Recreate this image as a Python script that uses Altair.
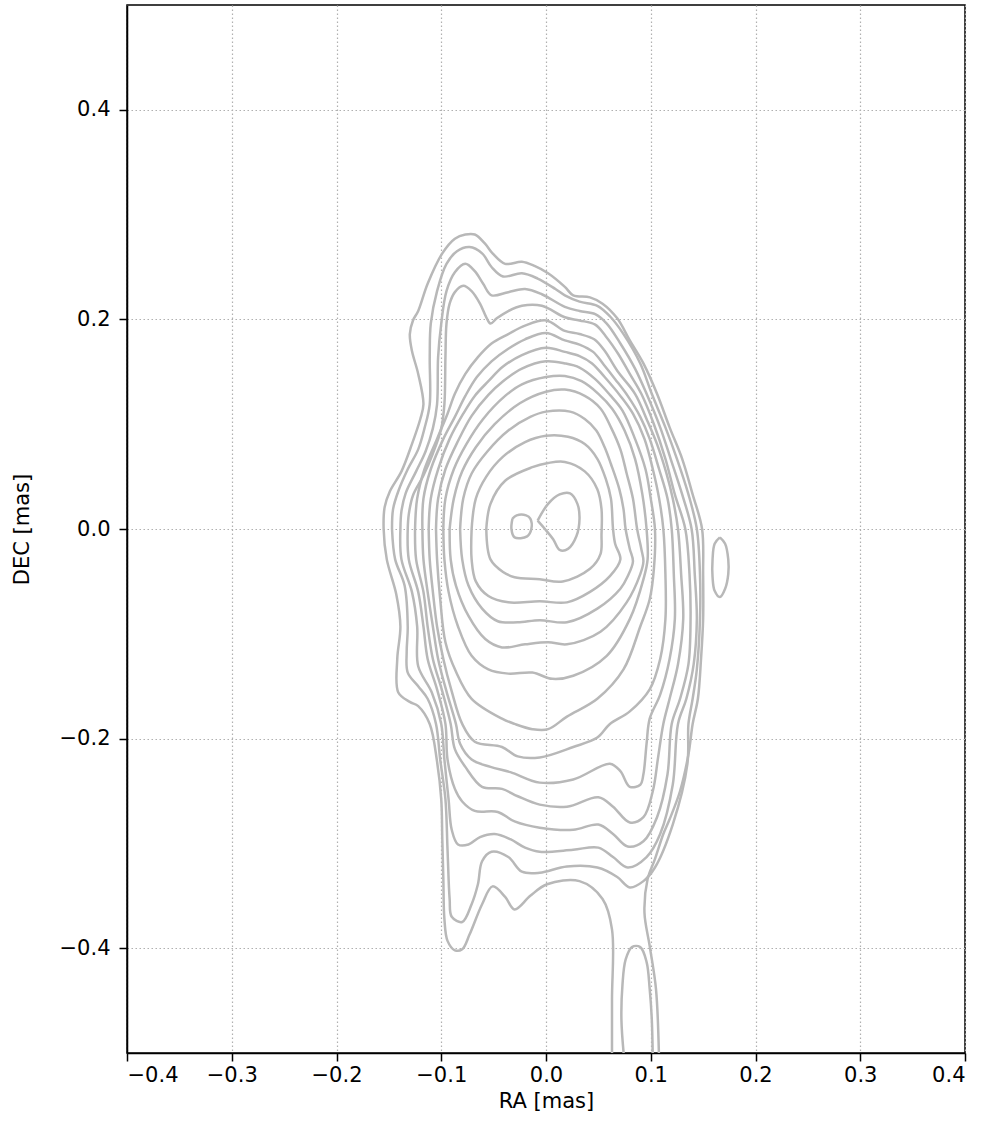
import altair as alt
import pandas as pd

# Axis ticks
X_TICKS = [-0.4, -0.3, -0.2, -0.1, 0.0, 0.1, 0.2, 0.3, 0.4]
Y_TICKS = [-0.4, -0.2, 0.0, 0.2, 0.4]

# Contour vertices (RA, DEC) in mas
RING_1 = [(0.063,-0.51),(0.063,-0.449),(0.063,-0.382),(0.054,-0.353),(0.032,-0.336),(0.001,-0.339),(-0.015,-0.350),(-0.030,-0.363),(-0.039,-0.351),(-0.051,-0.341),(-0.061,-0.358),(-0.073,-0.387),(-0.080,-0.401),(-0.087,-0.402),(-0.094,-0.393),(-0.097,-0.372),(-0.098,-0.334),(-0.099,-0.296),(-0.100,-0.258),(-0.104,-0.222),(-0.111,-0.186),(-0.122,-0.169),(-0.130,-0.165),(-0.141,-0.156),(-0.142,-0.124),(-0.139,-0.093),(-0.143,-0.062),(-0.152,-0.029),(-0.155,0.000),(-0.154,0.021),(-0.149,0.036),(-0.138,0.055),(-0.128,0.081),(-0.120,0.105),(-0.117,0.119),(-0.122,0.148),(-0.128,0.170),(-0.130,0.186),(-0.127,0.199),(-0.122,0.208),(-0.113,0.234),(-0.099,0.263),(-0.087,0.277),(-0.077,0.281),(-0.068,0.281),(-0.058,0.272),(-0.051,0.263),(-0.039,0.253),(-0.023,0.255),(-0.011,0.251),(0.002,0.244),(0.018,0.231),(0.026,0.223),(0.042,0.221),(0.054,0.215),(0.068,0.201),(0.080,0.180),(0.093,0.158),(0.106,0.129),(0.118,0.097),(0.130,0.067),(0.140,0.033),(0.149,0.000),(0.150,-0.043),(0.150,-0.086),(0.148,-0.124),(0.145,-0.162),(0.140,-0.186),(0.136,-0.215),(0.128,-0.250),(0.118,-0.277),(0.112,-0.291),(0.104,-0.315),(0.097,-0.334),(0.094,-0.366),(0.099,-0.398),(0.105,-0.439),(0.108,-0.51)]

RING_2 = [(-0.147,0.000),(-0.146,0.019),(-0.141,0.036),(-0.132,0.057),(-0.122,0.076),(-0.116,0.096),(-0.111,0.119),(-0.111,0.164),(-0.110,0.196),(-0.104,0.227),(-0.095,0.253),(-0.085,0.265),(-0.073,0.269),(-0.061,0.263),(-0.052,0.250),(-0.041,0.241),(-0.023,0.244),(-0.008,0.239),(0.009,0.229),(0.018,0.223),(0.032,0.217),(0.049,0.213),(0.061,0.203),(0.074,0.186),(0.090,0.158),(0.101,0.129),(0.114,0.097),(0.125,0.067),(0.136,0.033),(0.144,0.000),(0.147,-0.043),(0.147,-0.086),(0.144,-0.134),(0.140,-0.162),(0.136,-0.186),(0.135,-0.224),(0.121,-0.282),(0.104,-0.323),(0.093,-0.336),(0.080,-0.342),(0.068,-0.332),(0.049,-0.323),(0.020,-0.322),(-0.006,-0.328),(-0.023,-0.327),(-0.036,-0.313),(-0.052,-0.308),(-0.061,-0.317),(-0.065,-0.339),(-0.071,-0.358),(-0.080,-0.375),(-0.090,-0.370),(-0.092,-0.353),(-0.094,-0.306),(-0.096,-0.258),(-0.101,-0.220),(-0.105,-0.186),(-0.113,-0.162),(-0.122,-0.150),(-0.132,-0.137),(-0.133,-0.117),(-0.132,-0.093),(-0.135,-0.054),(-0.144,-0.029)]

RING_3 = [(-0.139,0.000),(-0.138,0.017),(-0.134,0.034),(-0.124,0.055),(-0.115,0.074),(-0.108,0.096),(-0.104,0.119),(-0.103,0.164),(-0.100,0.196),(-0.095,0.227),(-0.087,0.245),(-0.077,0.253),(-0.068,0.246),(-0.060,0.234),(-0.052,0.223),(-0.036,0.226),(-0.020,0.229),(-0.004,0.224),(0.018,0.212),(0.032,0.208),(0.047,0.205),(0.058,0.196),(0.071,0.177),(0.085,0.153),(0.096,0.129),(0.109,0.097),(0.119,0.067),(0.130,0.033),(0.139,0.000),(0.142,-0.043),(0.144,-0.086),(0.141,-0.129),(0.134,-0.162),(0.126,-0.186),(0.121,-0.244),(0.109,-0.291),(0.096,-0.313),(0.078,-0.323),(0.064,-0.313),(0.050,-0.304),(0.026,-0.306),(-0.006,-0.308),(-0.020,-0.304),(-0.034,-0.296),(-0.049,-0.291),(-0.063,-0.294),(-0.074,-0.301),(-0.084,-0.301),(-0.090,-0.287),(-0.093,-0.258),(-0.097,-0.220),(-0.100,-0.186),(-0.109,-0.156),(-0.122,-0.131),(-0.123,-0.093),(-0.128,-0.060),(-0.138,-0.029)]

RING_4 = [(-0.132,0.000),(-0.131,0.014),(-0.127,0.032),(-0.117,0.051),(-0.108,0.072),(-0.100,0.096),(-0.097,0.119),(-0.096,0.164),(-0.095,0.196),(-0.092,0.215),(-0.087,0.226),(-0.079,0.232),(-0.071,0.227),(-0.063,0.215),(-0.057,0.202),(-0.053,0.196),(-0.047,0.201),(-0.036,0.208),(-0.023,0.213),(-0.004,0.213),(0.018,0.202),(0.032,0.199),(0.047,0.195),(0.057,0.184),(0.069,0.167),(0.080,0.148),(0.091,0.129),(0.103,0.100),(0.114,0.067),(0.123,0.033),(0.133,0.000),(0.137,-0.043),(0.138,-0.086),(0.136,-0.129),(0.128,-0.162),(0.120,-0.186),(0.116,-0.234),(0.106,-0.275),(0.093,-0.298),(0.078,-0.303),(0.064,-0.291),(0.050,-0.282),(0.026,-0.287),(-0.006,-0.285),(-0.030,-0.279),(-0.046,-0.270),(-0.068,-0.269),(-0.080,-0.260),(-0.087,-0.248),(-0.094,-0.220),(-0.096,-0.186),(-0.104,-0.153),(-0.113,-0.124),(-0.117,-0.093),(-0.122,-0.060),(-0.131,-0.029)]

RING_5 = [(-0.125,0.000),(-0.123,0.029),(-0.116,0.057),(-0.104,0.086),(-0.094,0.110),(-0.087,0.129),(-0.077,0.148),(-0.065,0.164),(-0.052,0.177),(-0.036,0.186),(-0.020,0.194),(0.000,0.199),(0.018,0.189),(0.032,0.186),(0.046,0.181),(0.056,0.170),(0.068,0.151),(0.085,0.129),(0.096,0.105),(0.106,0.081),(0.115,0.053),(0.121,0.029),(0.126,0.000),(0.129,-0.043),(0.131,-0.086),(0.126,-0.129),(0.118,-0.162),(0.112,-0.186),(0.107,-0.218),(0.102,-0.250),(0.093,-0.275),(0.080,-0.280),(0.064,-0.265),(0.050,-0.256),(0.020,-0.265),(-0.006,-0.263),(-0.027,-0.255),(-0.042,-0.248),(-0.061,-0.246),(-0.077,-0.227),(-0.087,-0.210),(-0.091,-0.186),(-0.099,-0.155),(-0.108,-0.124),(-0.113,-0.093),(-0.117,-0.060),(-0.124,-0.029)]

RING_6 = [(-0.118,0.000),(-0.117,0.029),(-0.110,0.057),(-0.098,0.086),(-0.087,0.107),(-0.077,0.127),(-0.066,0.145),(-0.052,0.160),(-0.036,0.172),(-0.020,0.181),(0.000,0.187),(0.018,0.180),(0.032,0.176),(0.045,0.169),(0.055,0.157),(0.066,0.143),(0.078,0.127),(0.090,0.107),(0.099,0.086),(0.108,0.057),(0.116,0.029),(0.120,0.000),(0.122,-0.043),(0.123,-0.086),(0.118,-0.124),(0.109,-0.158),(0.099,-0.181),(0.096,-0.205),(0.093,-0.234),(0.090,-0.244),(0.080,-0.246),(0.071,-0.231),(0.061,-0.224),(0.026,-0.239),(-0.006,-0.242),(-0.034,-0.232),(-0.053,-0.227),(-0.071,-0.220),(-0.082,-0.205),(-0.086,-0.186),(-0.095,-0.155),(-0.103,-0.124),(-0.108,-0.093),(-0.113,-0.060),(-0.117,-0.029)]

RING_7 = [(-0.112,0.000),(-0.110,0.029),(-0.103,0.057),(-0.092,0.086),(-0.079,0.110),(-0.068,0.127),(-0.055,0.141),(-0.041,0.155),(-0.023,0.166),(0.000,0.173),(0.018,0.169),(0.032,0.165),(0.044,0.158),(0.056,0.145),(0.071,0.127),(0.083,0.110),(0.094,0.086),(0.102,0.057),(0.108,0.029),(0.112,0.000),(0.114,-0.043),(0.114,-0.086),(0.109,-0.124),(0.099,-0.153),(0.080,-0.174),(0.061,-0.186),(0.049,-0.199),(0.026,-0.208),(-0.006,-0.218),(-0.027,-0.217),(-0.042,-0.208),(-0.068,-0.203),(-0.080,-0.186),(-0.090,-0.155),(-0.098,-0.124),(-0.104,-0.093),(-0.108,-0.060),(-0.111,-0.029)]

RING_8 = [(-0.105,0.000),(-0.103,0.029),(-0.096,0.057),(-0.084,0.084),(-0.071,0.108),(-0.055,0.128),(-0.041,0.141),(-0.023,0.153),(0.000,0.160),(0.018,0.158),(0.032,0.154),(0.047,0.143),(0.061,0.128),(0.073,0.113),(0.085,0.086),(0.095,0.057),(0.100,0.029),(0.104,0.000),(0.103,-0.038),(0.099,-0.067),(0.090,-0.093),(0.074,-0.134),(0.049,-0.162),(0.020,-0.179),(0.002,-0.191),(-0.013,-0.191),(-0.030,-0.186),(-0.042,-0.181),(-0.071,-0.162),(-0.086,-0.136),(-0.096,-0.108),(-0.101,-0.067),(-0.104,-0.029)]

RING_9 = [(-0.098,0.000),(-0.096,0.029),(-0.088,0.057),(-0.076,0.081),(-0.060,0.105),(-0.039,0.127),(-0.023,0.138),(0.000,0.145),(0.018,0.146),(0.034,0.141),(0.050,0.129),(0.063,0.115),(0.075,0.094),(0.085,0.067),(0.092,0.033),(0.096,0.000),(0.097,-0.029),(0.093,-0.048),(0.080,-0.086),(0.058,-0.121),(0.026,-0.140),(0.006,-0.143),(-0.013,-0.137),(-0.036,-0.138),(-0.055,-0.134),(-0.071,-0.121),(-0.084,-0.093),(-0.093,-0.060),(-0.097,-0.029)]

RING_10 = [(-0.092,0.000),(-0.088,0.029),(-0.080,0.055),(-0.067,0.078),(-0.049,0.100),(-0.025,0.120),(0.000,0.131),(0.018,0.133),(0.037,0.127),(0.052,0.115),(0.062,0.097),(0.071,0.076),(0.077,0.053),(0.083,0.029),(0.087,0.000),(0.091,-0.019),(0.093,-0.031),(0.090,-0.043),(0.077,-0.070),(0.052,-0.098),(0.020,-0.110),(0.002,-0.108),(-0.020,-0.110),(-0.042,-0.113),(-0.058,-0.105),(-0.074,-0.083),(-0.086,-0.054),(-0.091,-0.029)]

RING_11 = [(-0.082,0.000),(-0.079,0.029),(-0.071,0.053),(-0.056,0.074),(-0.036,0.094),(-0.015,0.107),(0.000,0.112),(0.023,0.112),(0.037,0.105),(0.048,0.094),(0.056,0.078),(0.062,0.062),(0.070,0.038),(0.074,0.019),(0.076,0.000),(0.080,-0.019),(0.083,-0.031),(0.078,-0.045),(0.071,-0.057),(0.049,-0.076),(0.020,-0.089),(-0.006,-0.087),(-0.027,-0.089),(-0.046,-0.088),(-0.061,-0.076),(-0.074,-0.054),(-0.080,-0.029)]

RING_12 = [(-0.071,0.000),(-0.067,0.029),(-0.057,0.050),(-0.041,0.069),(-0.020,0.083),(0.000,0.089),(0.021,0.088),(0.037,0.081),(0.049,0.067),(0.057,0.048),(0.062,0.029),(0.064,0.000),(0.066,-0.014),(0.071,-0.029),(0.061,-0.045),(0.042,-0.060),(0.020,-0.070),(-0.006,-0.069),(-0.036,-0.070),(-0.055,-0.064),(-0.067,-0.050),(-0.071,-0.029)]

RING_13 = [(-0.057,0.000),(-0.053,0.024),(-0.039,0.046),(-0.013,0.059),(0.002,0.063),(0.018,0.064),(0.037,0.055),(0.049,0.038),(0.053,0.019),(0.053,-0.005),(0.052,-0.024),(0.042,-0.038),(0.016,-0.050),(-0.006,-0.048),(-0.030,-0.046),(-0.041,-0.041),(-0.053,-0.029)]

PEAK_MAIN = [(-0.008,0.008),(0.002,0.024),(0.013,0.033),(0.023,0.034),(0.030,0.024),(0.032,0.010),(0.029,-0.007),(0.021,-0.019),(0.013,-0.020),(0.007,-0.010),(-0.001,0.000)]

PEAK_SMALL = [(-0.032,0.010),(-0.028,0.013),(-0.019,0.013),(-0.015,0.010),(-0.014,0.000),(-0.018,-0.007),(-0.030,-0.008),(-0.033,0.000)]

ISLAND_EAST = [(0.166,-0.008),(0.171,-0.014),(0.174,-0.029),(0.174,-0.043),(0.171,-0.057),(0.166,-0.065),(0.161,-0.059),(0.159,-0.046),(0.159,-0.029),(0.161,-0.014)]

JET_SOUTH = [(0.075,-0.51),(0.072,-0.468),(0.073,-0.435),(0.076,-0.411),(0.082,-0.399),(0.090,-0.399),(0.096,-0.413),(0.099,-0.439),(0.101,-0.468),(0.102,-0.51)]

CONTOURS = [
    ("r01", RING_1, False), ("r02", RING_2, True), ("r03", RING_3, True),
    ("r04", RING_4, True), ("r05", RING_5, True), ("r06", RING_6, True),
    ("r07", RING_7, True), ("r08", RING_8, True), ("r09", RING_9, True),
    ("r10", RING_10, True), ("r11", RING_11, True), ("r12", RING_12, True),
    ("r13", RING_13, True), ("p1", PEAK_MAIN, True), ("p2", PEAK_SMALL, True),
    ("e1", ISLAND_EAST, True), ("j1", JET_SOUTH, False),
]

rows = []
for name, pts, closed in CONTOURS:
    seq = list(pts) + ([pts[0]] if closed else [])
    for i, (ra, dec) in enumerate(seq):
        rows.append({"contour": name, "order": i, "ra": ra, "dec": dec})
df = pd.DataFrame(rows)

FONT = "DejaVu Sans"

x_axis = alt.Axis(
    values=X_TICKS, format=".1f", title="RA [mas]",
    labelFontSize=21, titleFontSize=21, labelFont=FONT, titleFont=FONT,
    labelColor="black", titleColor="black", titleFontWeight="normal",
    tickSize=8, tickWidth=1.5, tickColor="black", labelPadding=3,
    domainColor="black", domainWidth=1.5,
    grid=True, gridColor="#b0b0b0", gridDash=[1.5, 2.5], gridWidth=1.2,
    titleY=48, titleBaseline="middle",
)
y_axis = alt.Axis(
    values=Y_TICKS, format=".1f", title="DEC [mas]",
    labelFontSize=21, titleFontSize=21, labelFont=FONT, titleFont=FONT,
    labelColor="black", titleColor="black", titleFontWeight="normal",
    tickSize=8, tickWidth=1.5, tickColor="black", labelPadding=9,
    domainColor="black", domainWidth=1.5,
    grid=True, gridColor="#b0b0b0", gridDash=[1.5, 2.5], gridWidth=1.2,
    titleX=-105, titleY=524, titleAngle=270, titleBaseline="middle", titleAlign="center",
)

chart = alt.Chart(df).mark_line(
    clip=True, color="#b8b8b8", strokeWidth=2.5, interpolate="catmull-rom"
).encode(
    x=alt.X("ra:Q", scale=alt.Scale(domain=[-0.4, 0.4], nice=False, zero=False), axis=x_axis),
    y=alt.Y("dec:Q", scale=alt.Scale(domain=[-0.5, 0.5], nice=False, zero=False), axis=y_axis),
    detail="contour:N",
    order="order:Q",
).properties(
    width=838, height=1048,
    padding={"left": 127, "top": 5, "right": 21, "bottom": 79},
    autosize=alt.AutoSizeParams(type="none"),
    background="white",
).configure_view(
    stroke="black", strokeWidth=1.5
)

chart.save("out.html", embed_options={"renderer": "svg", "actions": False})
